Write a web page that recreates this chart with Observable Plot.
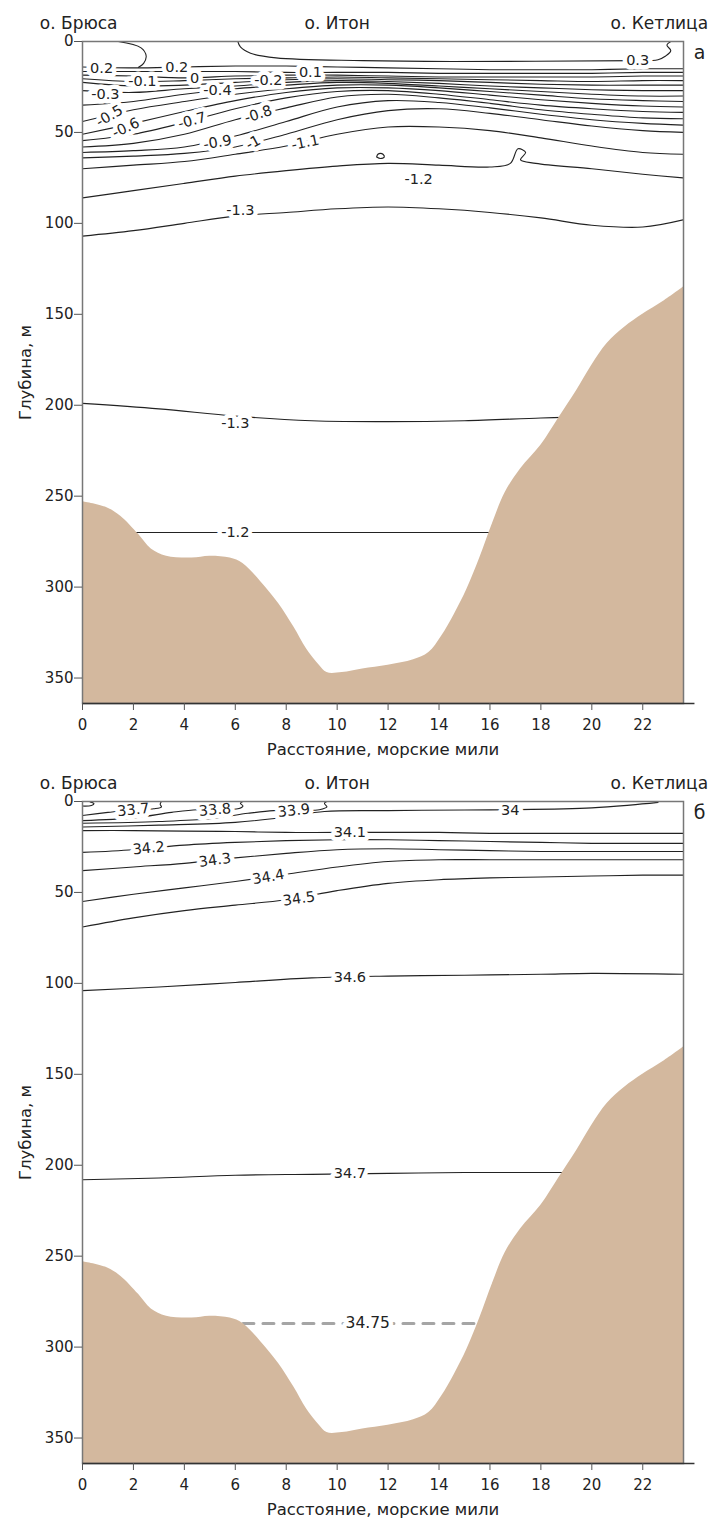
<!DOCTYPE html>
<html><head><meta charset="utf-8">
<script src="https://cdn.jsdelivr.net/npm/d3@7"></script>
<script src="https://cdn.jsdelivr.net/npm/@observablehq/plot@0.6"></script>
<style>
body{margin:0;background:#fff;}
#chart{width:712px;}
#chart svg{display:block;}
</style></head><body><div id="chart"></div>
<script>
// ---------- axes ----------
const xTicks = [0, 2, 4, 6, 8, 10, 12, 14, 16, 18, 20, 22];
const yTicks = [0, 50, 100, 150, 200, 250, 300, 350];
const xTitle = "Расстояние, морские мили";
const yTitle = "Глубина, м";
const islandNames = ["о. Брюса", "о. Итон", "о. Кетлица"];
const islandMiles = [-0.15, 10, 22.65];
const panelLetters = ["а", "б"];

// ---------- bottom profile (miles, depth m) ----------
const bottomMiles  = [0, 0.9, 1.5, 2.2, 2.7, 3.3, 4.3, 5.0, 5.8, 6.3, 7.0, 7.7, 8.3, 8.8, 9.3, 9.6, 10.2, 11.0, 12.0, 13.0, 13.6, 14.1, 14.6, 15.1, 15.6, 16.1, 16.6, 17.2, 18.0, 18.7, 19.4, 20.0, 20.6, 21.3, 22.0, 22.8, 23.6];
const bottomDepths = [253, 256, 261, 271, 279, 283, 284, 283, 284, 287, 297, 309, 322, 334, 343, 347, 347, 345, 343, 340, 336, 327, 315, 301, 284, 265, 248, 235, 222, 207, 192, 178, 166, 157, 150, 143, 135];

// ---------- panel a: temperature isolines ----------
const bandMiles = [0, 2, 4, 6, 8, 10, 12, 14, 16, 18, 20, 22, 23.6];
const t_p02  = [14, 14.5, 14, 13.5, 13.5, 14, 14.5, 15, 15.5, 15.5, 15.5, 15, 15];
const t_p01  = [16.5, 16.5, 16.5, 16.5, 17, 17, 17, 17.5, 17.5, 17.5, 17.5, 17, 17];
const t_0    = [18.5, 19, 20, 19, 18.5, 18.5, 19, 19.5, 19.5, 19.5, 19.5, 19, 19];
const t_m01  = [20.5, 22, 21.5, 20.5, 20, 19.5, 20, 20.5, 21, 21.5, 22, 21.5, 21.5];
const t_m02  = [22.5, 24.5, 24, 22.5, 21, 20.5, 21, 21.5, 22.5, 23.5, 24, 24, 24];
const t_m03  = [27, 28, 26, 24.5, 22.5, 21.5, 22, 23, 24.5, 25.5, 26.5, 27, 27];
const t_m04  = [35, 33, 29, 26, 24, 22.5, 23, 24.5, 26, 27.5, 29, 30, 30];
const t_m05  = [44, 37.5, 33, 29, 26, 24, 24, 25.5, 27.5, 29.5, 31.5, 32.5, 33];
const t_m06  = [51, 45, 38.5, 32.5, 28, 25.5, 25.5, 27, 29.5, 32, 34, 35.5, 36];
const t_m07  = [54.5, 51, 44.5, 37, 31, 27.5, 27, 29, 32, 35, 37, 38.5, 39];
const t_m08  = [58, 56, 51, 43, 36.5, 30.5, 29, 31, 34, 37.5, 40, 42, 42.5];
const t_m09  = [61, 60, 58, 52, 44, 36, 32.5, 33.5, 36.5, 40, 43, 45, 46];
const t_m10  = [64, 63, 61.5, 58, 51, 43, 38, 37, 39.5, 43, 46.5, 49, 50];
const t_m11  = [70, 68, 66, 62, 57.5, 51, 47, 47, 49, 53, 57.5, 61, 62];
const t_m13u = [107, 104, 100, 96, 94, 92, 91, 92, 94, 97, 101, 102, 98];
// free-form isolines [mile, depth]
const t_p03a   = [[6.1, 0], [6.2, 3], [6.6, 6.5], [7.6, 9], [11, 10.5], [14.5, 11], [21.8, 10.5]];
const t_p03b   = [[21.8, 10.5], [22.6, 10], [22.9, 8], [23.1, 5], [22.95, 2], [23.1, 0]];
const t_p02a   = [[1.4, 0], [2.3, 3.5], [2.5, 8], [2.4, 12], [2.2, 14.2]];
const t_m12u   = [[0, 86], [2, 82], [4, 78], [6, 74], [8, 71], [10, 68.5], [12, 67], [14, 68], [16, 69], [16.8, 67], [17.1, 59], [17.4, 61], [17.2, 65], [17.8, 67], [20, 70], [22, 73], [23.6, 75]];
const t_m12dot = [[11.55, 63.5], [11.6, 62], [11.7, 61.5], [11.8, 62], [11.85, 63.5], [11.7, 64.3], [11.55, 63.5]];
const t_m13d   = [[0, 199], [3, 202], [6, 206], [9, 208.5], [12, 209], [15, 208.5], [18, 207], [19.5, 206.5]];
const t_m12d   = [[1.5, 270], [17, 270]];

const tLabelText  = ["0.3", "0.2", "0.2", "0.1", "0", "-0.1", "-0.2", "-0.3", "-0.4", "-0.5", "-0.6", "-0.7", "-0.8", "-0.9", "-1", "-1.1", "-1.2", "-1.3", "-1.3", "-1.2"];
const tLabelMile  = [21.8, 0.75, 3.7, 8.95, 4.4, 2.35, 7.3, 0.9, 5.3, 1.06, 1.7, 4.3, 6.9, 5.3, 6.7, 8.75, 13.2, 6.2, 6.0, 6.0];
const tLabelDepth = [10.5, 15, 14.3, 17, 20, 22, 21.5, 29, 27, 41, 47.5, 43.5, 40, 55.5, 55.6, 55.6, 76, 93, 210, 270];
const tLabelAngle = [0, 0, 0, 0, 0, 0, 0, 0, 0, -30, -25, -15, -18, -10, -28, -12, 0, 0, 0, 0];

// ---------- panel б: salinity isolines ----------
const s_336 = [[0, 2.5], [0.35, 2.2], [0.45, 1.2], [0.3, 0.2]];
const s_337 = [[0, 7.7], [1, 6], [2, 4.5], [2.8, 4], [3.1, 3], [3.05, 1.5], [3.1, 0]];
const s_338 = [[0, 10.5], [2, 9], [3.5, 6], [4.5, 4.5], [5.5, 4.5], [6.1, 4], [6.3, 2.5], [6.2, 1], [6.3, 0]];
const s_339 = [[0, 12], [3, 11], [5, 9.5], [6.5, 6.5], [7.5, 5], [8.5, 4.8], [9.3, 4.5], [9.6, 3], [9.5, 1], [9.6, 0]];
const s_340 = [[0, 14], [3, 13], [6, 11.5], [8, 8.5], [9.5, 5.5], [12, 5], [15, 4.7], [17, 4.5], [20, 3.5], [21.5, 2], [22.6, 0.5]];
const s_341 = [[0, 16], [2, 16], [4, 16.3], [6, 16.5], [8, 17], [10, 17], [12, 17], [14, 17], [16, 17.5], [18, 17.5], [20, 17.5], [22, 17.5], [23.6, 17.5]];
const s_342 = [[0, 28], [2, 26.5], [4, 24], [6, 22.5], [8, 21.5], [10, 21], [12, 21], [14, 21.5], [16, 22], [18, 22.5], [20, 23], [22, 23], [23.6, 23]];
const s_343 = [[0, 38], [2, 36], [4, 34], [6, 31], [8, 28.5], [10, 26.5], [12, 26], [14, 26.5], [16, 27], [18, 27.5], [20, 27.5], [22, 27.5], [23.6, 27.5]];
const s_344 = [[0, 55], [2, 51], [4, 47.5], [6, 44], [8, 40], [10, 36], [12, 33], [14, 32], [16, 32], [18, 32], [20, 32], [22, 32], [23.6, 32]];
const s_345 = [[0, 69], [2, 64], [4, 60], [6, 57], [8, 54], [10, 49], [12, 45], [14, 43], [16, 42], [18, 41.5], [20, 41], [22, 40.5], [23.6, 40.5]];
const s_346 = [[0, 104], [3, 102], [6, 99.5], [9, 97], [12, 96], [15, 95.5], [18, 95], [20, 94.5], [23.6, 95]];
const s_347 = [[0, 208], [3, 207], [6, 205.5], [9, 205], [12, 204.5], [15, 204], [18, 204], [19.5, 204]];
const s_3475 = [[6.3, 287], [15.6, 287]];

const sLabelText  = ["33.7", "33.8", "33.9", "34", "34.1", "34.2", "34.3", "34.4", "34.5", "34.6", "34.7"];
const sLabelMile  = [2.0, 5.2, 8.3, 16.8, 10.5, 2.6, 5.2, 7.3, 8.5, 10.5, 10.5];
const sLabelDepth = [4.6, 4.6, 5, 4.6, 17, 25.7, 32.3, 41.5, 53.5, 96.5, 204.5];
const sLabelAngle = [-6, -5, -6, 0, 0, -6, -8, -10, -8, 0, 0];
const dashLabel = ["34.75"];
const dashLabelMile = [11.2];
const dashLabelDepth = [287];

// ---------- layout ----------
const W = 712;
const ML = 82, MR = 29, MT = 41;
const DEPTH_MAX = 364, MILE_MAX = 23.6;
const FONT = "'DejaVu Sans', Verdana, sans-serif";
const INK = "#222";

const bottomRows = bottomMiles.map((m, i) => ({x: m, d: bottomDepths[i]}));

function bandRows(id, depths) { return depths.map((d, i) => ({id, x: bandMiles[i], y: d})); }
function ptRows(id, pts) { return pts.map(([x, y]) => ({id, x, y})); }

const tempRows = [
  ...ptRows("0.3a", t_p03a), ...ptRows("0.3b", t_p03b), ...ptRows("0.2a", t_p02a),
  ...bandRows("0.2", t_p02), ...bandRows("0.1", t_p01), ...bandRows("0", t_0),
  ...bandRows("-0.1", t_m01), ...bandRows("-0.2", t_m02), ...bandRows("-0.3", t_m03),
  ...bandRows("-0.4", t_m04), ...bandRows("-0.5", t_m05), ...bandRows("-0.6", t_m06),
  ...bandRows("-0.7", t_m07), ...bandRows("-0.8", t_m08), ...bandRows("-0.9", t_m09),
  ...bandRows("-1", t_m10), ...bandRows("-1.1", t_m11), ...ptRows("-1.2u", t_m12u),
  ...ptRows("-1.2dot", t_m12dot), ...bandRows("-1.3u", t_m13u),
  ...ptRows("-1.3d", t_m13d), ...ptRows("-1.2d", t_m12d)
];
const tempLabels = tLabelText.map((t, i) => ({t, x: tLabelMile[i], y: tLabelDepth[i], r: tLabelAngle[i]}));

const salRows = [
  ...ptRows("33.6", s_336), ...ptRows("33.7", s_337), ...ptRows("33.8", s_338), ...ptRows("33.9", s_339), ...ptRows("34", s_340),
  ...ptRows("34.1", s_341), ...ptRows("34.2", s_342), ...ptRows("34.3", s_343), ...ptRows("34.4", s_344),
  ...ptRows("34.5", s_345), ...ptRows("34.6", s_346), ...ptRows("34.7", s_347)
];
const salLabels = sLabelText.map((t, i) => ({t, x: sLabelMile[i], y: sLabelDepth[i], r: sLabelAngle[i]}));
const dashRows = ptRows("34.75", s_3475);
const dashLabels = dashLabel.map((t, i) => ({t, x: dashLabelMile[i], y: dashLabelDepth[i], r: 0}));

const islands = islandNames.map((n, i) => ({n, x: islandMiles[i]}));

function panel(H, MB, lineRows, labels, letter, extra) {
  return Plot.plot({
    width: W, height: H,
    marginLeft: ML, marginRight: MR, marginTop: MT, marginBottom: MB,
    style: {fontFamily: FONT, fontSize: "15px", color: INK, background: "white", overflow: "visible"},
    x: {domain: [0, MILE_MAX]},
    y: {domain: [0, DEPTH_MAX], reverse: true},
    marks: [
      Plot.line(lineRows, {x: "x", y: "y", z: "id", curve: "catmull-rom", stroke: INK, strokeWidth: 1.1, clip: true}),
      ...extra,
      Plot.areaY(bottomRows, {x: "x", y1: "d", y2: DEPTH_MAX, fill: "#d3b89e", curve: "catmull-rom", clip: true}),
      Plot.text(labels, {x: "x", y: "y", text: "t", rotate: "r", fill: INK, stroke: "white", strokeWidth: 9, strokeLinejoin: "round", fontSize: 14.5}),
      Plot.frame({stroke: "#777", strokeWidth: 1.5}),
      Plot.ruleY([DEPTH_MAX], {x1: 0, x2: 24.05, stroke: "#333", strokeWidth: 1.3}),
      Plot.axisY({ticks: yTicks, tickSize: 8, tickPadding: 1, label: null, fontSize: 15, stroke: "#555"}),
      Plot.axisX({ticks: xTicks, tickSize: 7, tickPadding: 9, label: null, fontSize: 15, stroke: "#555"}),
      Plot.text([xTitle], {frameAnchor: "bottom", dy: 51, fontSize: 16.5, fill: INK}),
      Plot.text([yTitle], {frameAnchor: "left", textAnchor: "middle", rotate: -90, dx: -57, fontSize: 16.5, fill: INK}),
      Plot.text(islands, {x: "x", y: () => 0, text: "n", dy: -18, fontSize: 17, fill: INK}),
      Plot.text([letter], {frameAnchor: "top-right", textAnchor: "middle", lineAnchor: "middle", dx: 16, dy: 11, fontSize: 19, fill: INK})
    ]
  });
}

const chart = document.getElementById("chart");
chart.append(panel(760, 57, tempRows, tempLabels, panelLetters[0], []));
chart.append(panel(764, 61, salRows, salLabels, panelLetters[1], [
  Plot.line(dashRows, {x: "x", y: "y", stroke: "#a5a5a5", strokeWidth: 3, strokeDasharray: "11,9"}),
  Plot.text(dashLabels, {x: "x", y: "y", text: "t", fill: INK, stroke: "white", strokeWidth: 9, strokeLinejoin: "round", fontSize: 15.5})
]));
</script></body></html>
